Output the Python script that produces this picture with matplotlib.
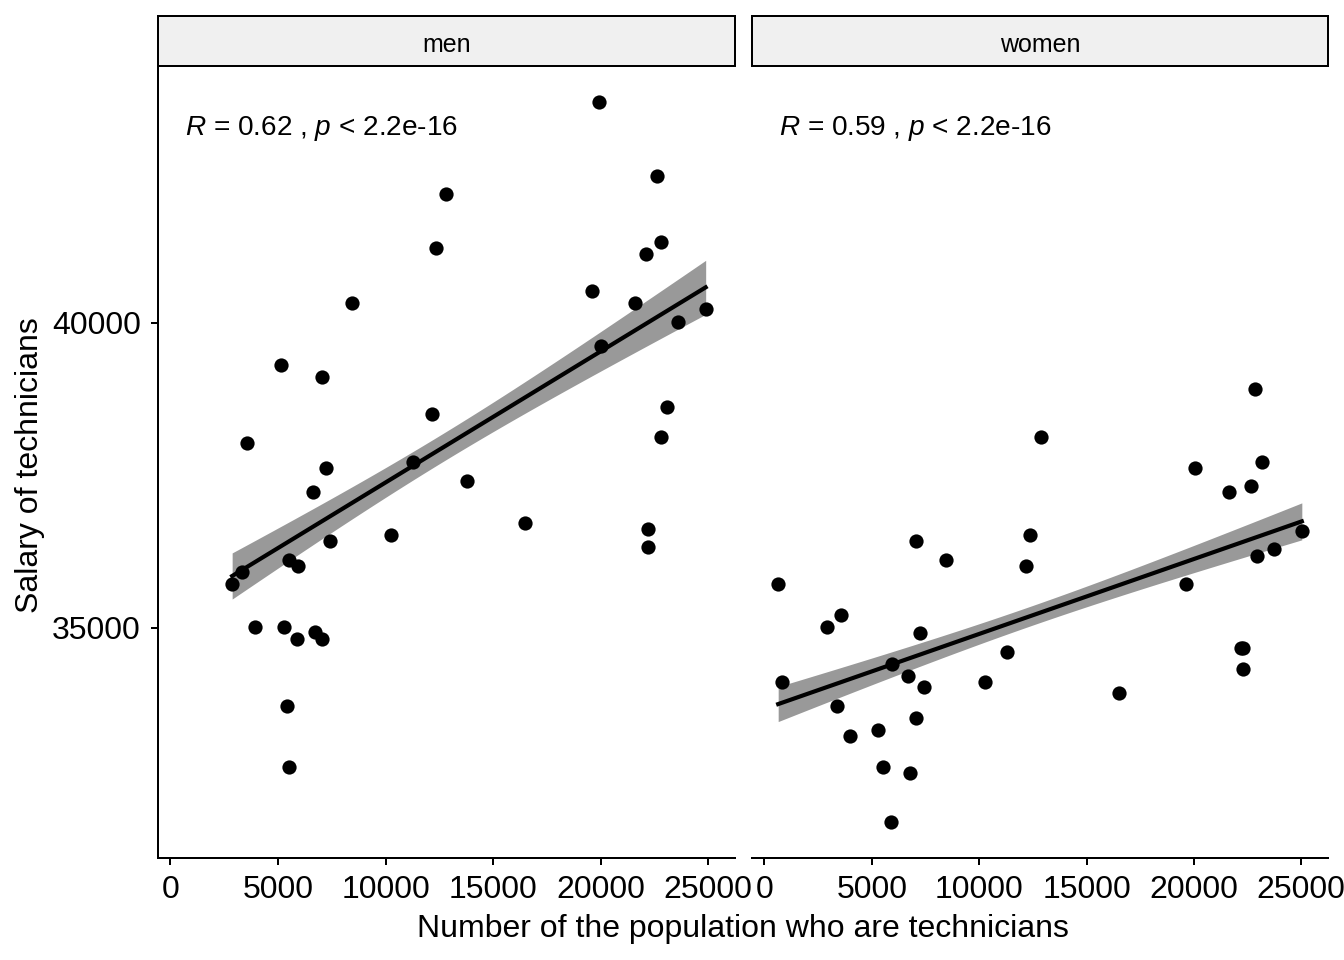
import numpy as np
import matplotlib.pyplot as plt

plt.rcParams['font.family'] = ['Liberation Sans', 'DejaVu Sans']
plt.rcParams['mathtext.fontset'] = 'custom'
plt.rcParams['mathtext.rm'] = 'Liberation Sans'
plt.rcParams['mathtext.it'] = 'Liberation Sans:italic'

# values
panels = ['men', 'women']
men_x = [2868, 3332, 3564, 3920, 5139, 5264, 5417, 5510, 5496, 5927, 5881, 6622, 6733,
         7039, 7039, 7224, 7396, 8429, 10237, 11288, 12136, 12322, 12818, 13805, 16493,
         19583, 19908, 20000, 21590, 22100, 22178, 22178, 22596, 22795, 22795, 23105,
         23583, 24880]
men_y = [35719, 35910, 38023, 35011, 39314, 35011, 33709, 32712, 36116, 36008, 34815,
         37222, 34930, 34815, 39113, 37614, 36417, 40322, 36520, 37712, 38508, 41221,
         42116, 37413, 36716, 40518, 43623, 39629, 40327, 41127, 36618, 36319, 42413,
         41328, 38121, 38623, 40016, 40229]
women_x = [640, 811, 2910, 3360, 3545, 3962, 5306, 5538, 5876, 5955, 6664, 6756, 7067,
           7067, 7252, 7438, 8471, 10264, 11316, 12164, 12350, 12883, 16534, 19639,
           20042, 21618, 22180, 22290, 22285, 22637, 22836, 22920, 23161, 23717, 25024]
women_y = [35719, 34118, 35016, 33709, 35212, 33219, 33317, 32712, 31814, 34412, 34216,
           32614, 36422, 33513, 34918, 34020, 36111, 34118, 34608, 36008, 36520, 38121,
           33922, 35719, 37614, 37222, 34660, 34660, 34330, 37320, 38922, 36181, 37712,
           36292, 36591]
# each plotted point stands for several records (the band is narrow, p < 2.2e-16)
records_per_point = 8
cor_labels = ['$\\it{R}$ = 0.62 , $\\it{p}$ < 2.2e-16',
              '$\\it{R}$ = 0.59 , $\\it{p}$ < 2.2e-16']
x_ticks = [0, 5000, 10000, 15000, 20000, 25000]
y_ticks = [35000, 40000]


def fit_band(x, y, xs, k=1, t=1.97):
    # lm fit with 95% confidence band, like geom_smooth(method = "lm")
    x = np.repeat(np.asarray(x, float), k)
    y = np.repeat(np.asarray(y, float), k)
    n = len(x)
    b, a = np.polyfit(x, y, 1)
    yhat = a + b * xs
    s = np.sqrt(np.sum((y - (a + b * x)) ** 2) / (n - 2))
    se = s * np.sqrt(1 / n + (xs - x.mean()) ** 2 / np.sum((x - x.mean()) ** 2))
    return yhat, yhat - t * se, yhat + t * se


def expand(vals, mult=0.05):
    lo, hi = min(vals), max(vals)
    pad = (hi - lo) * mult
    return lo - pad, hi + pad


xlim = expand(men_x + women_x)
ylim = expand(men_y + women_y)

fig = plt.figure(figsize=(13.44, 9.6), dpi=100)
W, H = 1344, 960
boxes = [(158, 735), (752, 1328)]
lw = 1.44

data = [(men_x, men_y), (women_x, women_y)]
for i, (name, (xv, yv)) in enumerate(zip(panels, data)):
    x0, x1 = boxes[i]
    ax = fig.add_axes([x0 / W, (H - 858) / H, (x1 - x0) / W, (858 - 66) / H])
    sx = fig.add_axes([x0 / W, (H - 66) / H, (x1 - x0) / W, 50 / H])

    xs = np.linspace(min(xv), max(xv), 100)
    yhat, lo, hi = fit_band(xv, yv, xs, k=records_per_point)
    ax.fill_between(xs, lo, hi, color='#999999', lw=0, zorder=1)
    ax.scatter(xv, yv, s=105, color='black', lw=0, zorder=2)
    ax.plot(xs, yhat, color='black', lw=3, zorder=3)

    ax.set_xlim(*xlim)
    ax.set_ylim(*ylim)
    ax.set_xticks(x_ticks)
    ax.set_yticks(y_ticks)
    ax.tick_params(labelsize=23, length=5, width=lw, color='black')
    ax.tick_params(axis='y', pad=7.5)
    ax.tick_params(axis='x', pad=7)
    for sp in ['top', 'right']:
        ax.spines[sp].set_visible(False)
    ax.spines['bottom'].set_linewidth(lw)
    ax.spines['left'].set_linewidth(lw)
    if i == 1:
        ax.spines['left'].set_visible(False)
        ax.tick_params(axis='y', left=False, labelleft=False)

    ax.text(0.047, 0.921, cor_labels[i], transform=ax.transAxes, fontsize=20.2,
            ha='left', va='center')

    sx.set_facecolor('#F0F0F0')
    sx.set_xticks([])
    sx.set_yticks([])
    for sp in sx.spines.values():
        sp.set_linewidth(lw)
    sx.text(0.5, 0.43, name, transform=sx.transAxes, fontsize=18,
            ha='center', va='center')

fig.text(743 / W, 1 - 929 / H, 'Number of the population who are technicians',
         fontsize=23, ha='center', va='center')
fig.text(30 / W, 1 - 465 / H, 'Salary of technicians', fontsize=23,
         ha='center', va='center', rotation=90)

fig.savefig('out.png', dpi=100)
